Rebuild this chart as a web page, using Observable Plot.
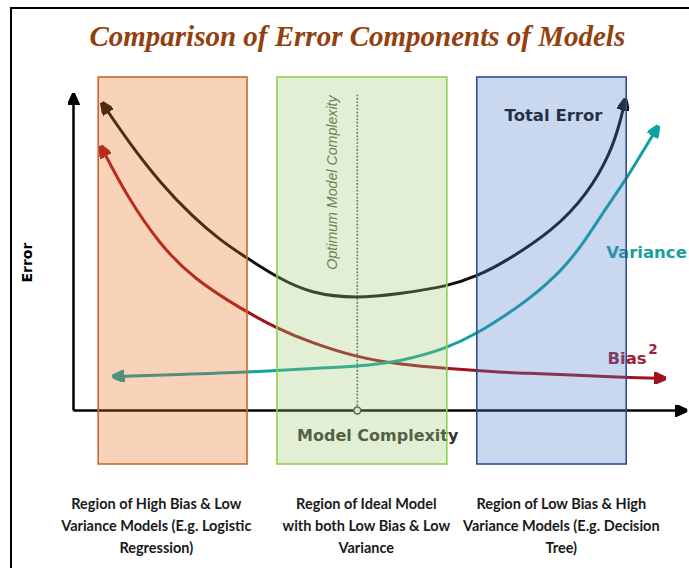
<!DOCTYPE html>
<html><head><meta charset="utf-8">
<script src="https://cdn.jsdelivr.net/npm/d3@7"></script>
<script src="https://cdn.jsdelivr.net/npm/@observablehq/plot@0.6"></script>
<style>
body{margin:0;background:#fff;}
#frame{position:absolute;left:10px;top:7px;width:690px;height:570px;border-top:2px solid #000;border-left:2px solid #000;pointer-events:none;}
#chart{position:absolute;left:0;top:0;}
</style></head><body>
<div id="chart"></div><div id="frame"></div>
<script>
// ---- data (model complexity vs error) ----
const totalX = [0.47,0.9,1.45,2.0,2.45,2.9,3.4,3.95,4.73,5.45,6.23,6.75,7.17,8.0,8.57,8.95,9.12,9.2];
const totalY = [10.27,9.0,7.57,6.43,5.67,5.07,4.43,3.9,3.73,3.9,4.13,4.5,4.93,6.0,7.23,8.57,9.67,10.4];
const biasX = [0.45,0.9,1.45,2.0,2.78,3.4,3.95,4.73,5.45,6.23,7.12,7.78,9.17,9.87];
const biasY = [8.83,7.1,5.5,4.4,3.4,2.73,2.27,1.77,1.53,1.4,1.27,1.23,1.1,1.07];
const varX = [0.65,1.78,2.9,3.95,4.73,5.45,6.23,6.75,7.12,7.57,8.15,8.53,8.87,9.23,9.5,9.75];
const varY = [1.13,1.2,1.27,1.4,1.47,1.63,2.07,2.6,3.07,3.67,4.67,5.67,6.73,7.77,8.67,9.5];

const regionNames = ["High Bias", "Ideal", "High Variance"];
const regionStart = [0.42, 3.4, 6.73];
const regionEnd = [2.9, 6.23, 9.22];
const regionTop = 11.1, regionBottom = -1.8;

const captions = [
  "Region of High Bias & Low\nVariance Models (E.g. Logistic\nRegression)",
  "Region of Ideal Model\nwith both Low Bias & Low\nVariance",
  "Region of Low Bias & High\nVariance Models (E.g. Decision\nTree)"
];
const captionX = [1.38, 4.88, 8.13];
const captionY = -3.77;

const optimumX = 4.73;
const axisXEnd = 10.23, axisYEnd = 10.57;
const dottedTop = 10.5;

// ---- tables ----
const toPts = (xs, ys) => xs.map((x, i) => ({x, y: ys[i]}));
const total = toPts(totalX, totalY);
const bias = toPts(biasX, biasY);
const variance = toPts(varX, varY);
const regions = regionNames.map((name, i) => ({name, x1: regionStart[i], x2: regionEnd[i]}));
const regionFill = ["#E86C19", "#9ECA70", "#4B7ACA"];
const regionStroke = ["#C8692E", "#8FD14F", "#2F4F8F"];

// filled arrowhead marker
const filledArrow = (color, context) => {
  const ns = "http://www.w3.org/2000/svg";
  const doc = (context && context.document) || document;
  const m = doc.createElementNS(ns, "marker");
  m.setAttribute("viewBox", "-10 -5 10 10");
  m.setAttribute("markerUnits", "userSpaceOnUse");
  m.setAttribute("markerWidth", 12);
  m.setAttribute("markerHeight", 12);
  m.setAttribute("orient", "auto-start-reverse");
  const p = doc.createElementNS(ns, "path");
  p.setAttribute("d", "M-10,-4.5L0,0L-10,4.5Z");
  p.setAttribute("fill", color);
  m.appendChild(p);
  return m;
};

const lineOpts = (color) => ({x: "x", y: "y", stroke: color, strokeWidth: 3, curve: "basis",
  markerStart: filledArrow, markerEnd: filledArrow, strokeLinecap: "butt"});

const sans = "Liberation Sans, Arial, sans-serif";
const wide = "DejaVu Sans, sans-serif";

const chart = Plot.plot({
  width: 689, height: 568,
  marginLeft: 73, marginRight: 16, marginTop: 110, marginBottom: 158,
  x: {domain: [0, 10], axis: null},
  y: {domain: [0, 10], axis: null},
  style: {background: "transparent", overflow: "visible"},
  marks: [
    // axes
    Plot.line([{x: 0, y: 0}, {x: axisXEnd, y: 0}], {x: "x", y: "y", stroke: "#000", strokeWidth: 2.5, markerEnd: filledArrow, strokeLinecap: "butt"}),
    Plot.line([{x: 0, y: 0}, {x: 0, y: axisYEnd}], {x: "x", y: "y", stroke: "#000", strokeWidth: 2.5, markerEnd: filledArrow, strokeLinecap: "butt"}),
    // optimum
    Plot.ruleX([optimumX], {y1: 0.17, y2: dottedTop, stroke: "#6a6a6a", strokeWidth: 2, strokeDasharray: "0.1,3.3", strokeLinecap: "round"}),
    Plot.dot([optimumX], {x: d => d, y: 0, r: 3.5, stroke: "#444", strokeWidth: 1.5, fill: "#eee"}),
    Plot.text(["Optimum Model Complexity"], {x: optimumX - 0.42, y: 7.6, text: d => d, rotate: -90, fontStyle: "italic", fontSize: 14.2, fontFamily: sans, fill: "#56634b"}),
    // curves
    Plot.line(total, lineOpts("#111")),
    Plot.line(bias, lineOpts("#A0141E")),
    Plot.line(variance, lineOpts("#12A0A0")),
    // labels
    Plot.text(["Total Error"], {x: 8.0, y: 9.83, text: d => d, fontWeight: "bold", fontSize: 16.5, fontFamily: wide, fill: "#111"}),
    Plot.text(["Variance"], {x: 9.55, y: 5.27, text: d => d, fontWeight: "bold", fontSize: 16.5, fontFamily: wide, fill: "#1A9E9E"}),
    Plot.text(["Bias"], {x: 8.9, y: 1.73, text: d => d, textAnchor: "start", fontWeight: "bold", fontSize: 16.5, fontFamily: wide, fill: "#9B2335"}),
    Plot.text(["2"], {x: 9.58, y: 2.02, text: d => d, textAnchor: "start", fontWeight: "bold", fontSize: 13.5, fontFamily: wide, fill: "#9B2335"}),
    Plot.text(["Model Complexity"], {x: 5.07, y: -0.83, text: d => d, fontWeight: "bold", fontSize: 16, fontFamily: wide, fill: "#333"}),
    // regions (translucent, on top)
    Plot.rect(regions, {x1: "x1", x2: "x2", y1: regionBottom, y2: regionTop, fill: (d, i) => regionFill[i], fillOpacity: 0.3}),
    Plot.rect(regions, {x1: "x1", x2: "x2", y1: regionBottom, y2: regionTop, fill: "none", stroke: (d, i) => regionStroke[i], strokeWidth: 1.6}),
    // outside texts
    Plot.text(["Error"], {x: -0.77, y: 4.93, text: d => d, rotate: -90, fontWeight: "bold", fontSize: 14, fontFamily: wide, fill: "#000"}),
    Plot.text(["Comparison of Error Components of Models"], {x: 4.73, y: 12.45, text: d => d, fontWeight: "bold", fontStyle: "italic", fontSize: 29, fontFamily: "Liberation Serif, Times New Roman, serif", fill: "#93400F"}),
    Plot.text(captions, {x: (d, i) => captionX[i], y: captionY, text: d => d, lineHeight: 1.52, fontWeight: "bold", fontSize: 14.5, fontFamily: "Lato, sans-serif", fill: "#1a1a1a"})
  ]
});
document.getElementById("chart").appendChild(chart);
</script></body></html>
